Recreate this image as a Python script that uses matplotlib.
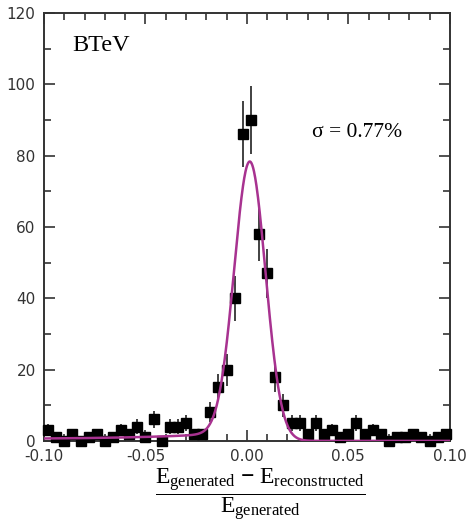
import math
import numpy as np
import matplotlib.pyplot as plt
from matplotlib.ticker import MultipleLocator

plt.rcParams['mathtext.fontset'] = 'custom'
plt.rcParams['mathtext.rm'] = 'Liberation Serif'
plt.rcParams['mathtext.bf'] = 'Liberation Serif:bold'
plt.rcParams['mathtext.it'] = 'Liberation Serif:italic'

# bin centres of the resolution histogram (bin width 0.004)
bin_lo = -0.098
bin_width = 0.004
counts = [3, 1, 0, 2, 0, 1, 2, 0, 1, 3,
          2, 4, 1, 6, 0, 4, 4, 5, 2, 2,
          8, 15, 20, 40, 86, 90, 58, 47, 18, 10,
          5, 5, 2, 5, 2, 3, 1, 2, 5, 2,
          3, 2, 0, 1, 1, 2, 1, 0, 1, 2]

# fit: gaussian plus a low-side step background
fit_amp = 77.0
fit_mean = 0.0015
fit_sigma = 0.0077
bkg_flat = 0.5
bkg_amp = 1.3
bkg_slope = 0.04

x_centres = bin_lo + bin_width * np.arange(len(counts))
y = np.array(counts, dtype=float)
yerr = np.sqrt(y)

xf = np.linspace(-0.1, 0.1, 1000)
step = np.array([0.5 * math.erfc((v - fit_mean) / (math.sqrt(2) * fit_sigma)) for v in xf])
bkg = (bkg_flat + bkg_amp * np.exp((xf + 0.02) / bkg_slope)) * step
yf = fit_amp * np.exp(-0.5 * ((xf - fit_mean) / fit_sigma) ** 2) + bkg

fig = plt.figure(figsize=(4.7, 5.23), dpi=100)
ax = fig.add_axes([0.0936, 0.157, 0.8634, 0.818])

ax.errorbar(x_centres, y, yerr=yerr, fmt='none', ecolor='#333333', elinewidth=1.3, clip_on=False, zorder=2)
ax.plot(x_centres, y, 's', color='black', markersize=7.5, clip_on=False, zorder=3)
ax.plot(xf, yf, color='#a83290', linewidth=1.8, zorder=4)

ax.set_xlim(-0.1, 0.1)
ax.set_ylim(0, 120)
ax.xaxis.set_major_locator(MultipleLocator(0.05))
ax.xaxis.set_minor_locator(MultipleLocator(0.01))
ax.yaxis.set_major_locator(MultipleLocator(20))
ax.yaxis.set_minor_locator(MultipleLocator(10))
ax.tick_params(which='both', direction='in', top=True, right=True, colors='#333333',
               labelsize=11, width=1.2)
ax.tick_params(which='major', length=8, pad=6)
ax.tick_params(which='minor', length=5)
ax.xaxis.set_major_formatter(plt.FuncFormatter(lambda v, p: '%.2f' % v if abs(v) > 1e-9 else '0.00'))
for s in ax.spines.values():
    s.set_linewidth(1.4)
    s.set_color('#333333')

ax.set_xlabel(r'$\dfrac{\mathrm{E}_{\mathrm{generated}}\ \mathbf{-}\ \mathrm{E}_{\mathrm{reconstructed}}}{\mathrm{E}_{\mathrm{generated}}}$',
              fontsize=17)
ax.xaxis.set_label_coords(0.532, -0.058)
ax.xaxis.label.set_va('top')

ax.text(0.07, 0.925, 'BTeV', transform=ax.transAxes, family='Liberation Serif', fontsize=17.5, va='center')
ax.text(0.66, 0.72, 'σ = 0.77%', transform=ax.transAxes, family='Liberation Serif', fontsize=15.5, va='center')

fig.savefig('out.png', dpi=100)
